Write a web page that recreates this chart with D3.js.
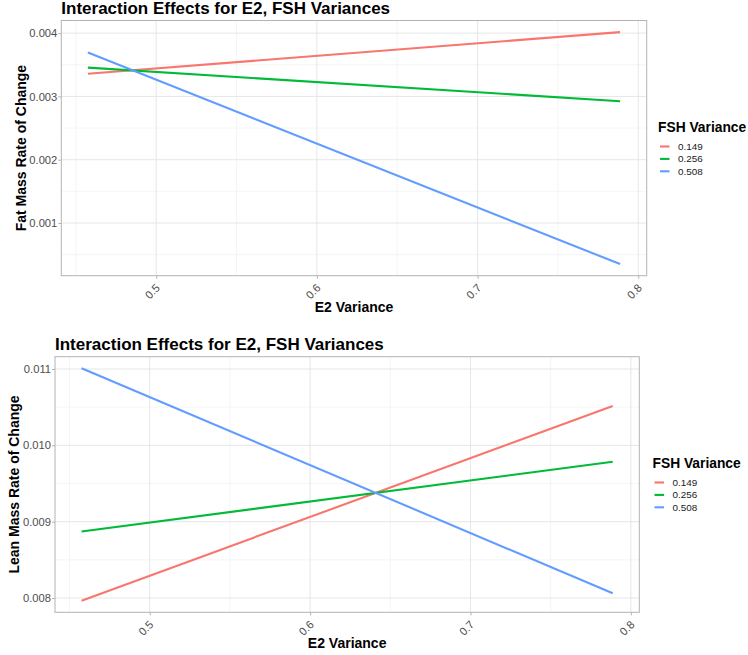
<!DOCTYPE html>
<html><head><meta charset="utf-8">
<script src="https://cdn.jsdelivr.net/npm/d3@7"></script>
<style>body{margin:0;background:#fff;} svg{display:block;font-family:"Liberation Sans",Arial,sans-serif;}</style>
</head><body>
<svg id="chart" width="748" height="655"></svg>
<script>
// ---- data ----
const e2Range = [0.4575, 0.7887];
const fshLevels = ["0.149", "0.256", "0.508"];
const fatRed = [0.003357, 0.004016];
const fatGreen = [0.003455, 0.002924];
const fatBlue = [0.003694, 0.000351];
const leanRed = [0.007965, 0.010515];
const leanGreen = [0.008872, 0.009784];
const leanBlue = [0.011009, 0.008062];
const xTicks = [0.5, 0.6, 0.7, 0.8];
const xMinor = [0.45, 0.55, 0.65, 0.75];
const fatTicks = [0.001, 0.002, 0.003, 0.004];
const fatMinor = [0.0005, 0.0015, 0.0025, 0.0035];
const leanTicks = [0.008, 0.009, 0.010, 0.011];
const leanMinor = [0.0085, 0.0095, 0.0105];
const colors = ["#F8766D", "#00BA38", "#619CFF"];

const svg = d3.select("#chart");

function expand(ext) { const r = ext[1] - ext[0]; return [ext[0] - 0.05 * r, ext[1] + 0.05 * r]; }

function panel(o) {
  const g = svg.append("g");
  const x = d3.scaleLinear().domain(expand(e2Range)).range([o.left, o.right]);
  const all = o.series.flat();
  const y = d3.scaleLinear().domain(expand(d3.extent(all))).range([o.bottom, o.top]);
  g.selectAll(".xm").data(xMinor).join("line").attr("x1", d => x(d)).attr("x2", d => x(d))
    .attr("y1", o.top).attr("y2", o.bottom).attr("stroke", "#EBEBEB").attr("stroke-width", 0.5);
  g.selectAll(".ym").data(o.yMinor).join("line").attr("y1", d => y(d)).attr("y2", d => y(d))
    .attr("x1", o.left).attr("x2", o.right).attr("stroke", "#EBEBEB").attr("stroke-width", 0.5);
  g.selectAll(".xg").data(xTicks).join("line").attr("x1", d => x(d)).attr("x2", d => x(d))
    .attr("y1", o.top).attr("y2", o.bottom).attr("stroke", "#E3E3E3").attr("stroke-width", 0.9);
  g.selectAll(".yg").data(o.yTicks).join("line").attr("y1", d => y(d)).attr("y2", d => y(d))
    .attr("x1", o.left).attr("x2", o.right).attr("stroke", "#E3E3E3").attr("stroke-width", 0.9);
  const line = d3.line().x((d, i) => x(e2Range[i])).y(d => y(d));
  o.series.forEach((s, i) => {
    g.append("path").attr("d", line(s)).attr("fill", "none").attr("stroke", colors[i]).attr("stroke-width", 2.1);
  });
  g.append("rect").attr("x", o.left).attr("y", o.top).attr("width", o.right - o.left).attr("height", o.bottom - o.top)
    .attr("fill", "none").attr("stroke", "#B3B3B3").attr("stroke-width", 1);
  const ya = d3.axisLeft(y).tickValues(o.yTicks).tickSize(3).tickPadding(1).tickFormat(d3.format(".3f"));
  const yg = g.append("g").attr("transform", `translate(${o.left},0)`).call(ya)
    .attr("font-size", null).attr("font-family", null);
  yg.select(".domain").remove();
  yg.selectAll(".tick line").attr("stroke", "#B3B3B3");
  yg.selectAll(".tick text").attr("fill", "#4D4D4D").attr("font-size", "11.2px");
  const xa = d3.axisBottom(x).tickValues(xTicks).tickSize(3).tickFormat(d3.format(".1f"));
  const xg = g.append("g").attr("transform", `translate(0,${o.bottom})`).call(xa)
    .attr("font-size", null).attr("font-family", null);
  xg.select(".domain").remove();
  xg.selectAll(".tick line").attr("stroke", "#B3B3B3");
  xg.selectAll(".tick text").attr("fill", "#4D4D4D").attr("font-size", "11.2px")
    .attr("text-anchor", "end").attr("y", 0).attr("dy", 0)
    .attr("transform", "translate(4,13) rotate(-45)");
  g.append("text").attr("x", o.left).attr("y", o.titleY).text("Interaction Effects for E2, FSH Variances")
    .attr("font-size", "17px").attr("font-weight", "bold").attr("fill", "#000");
  g.append("text").attr("x", (o.left + o.right) / 2).attr("y", o.xTitleY).attr("text-anchor", "middle")
    .text("E2 Variance").attr("font-size", "14px").attr("font-weight", "bold");
  g.append("text").attr("transform", `translate(${o.yTitleX},${(o.top + o.bottom) / 2}) rotate(-90)`)
    .attr("text-anchor", "middle").text(o.yLabel).attr("font-size", "14px").attr("font-weight", "bold");
  g.append("text").attr("x", o.legX).attr("y", o.legTitleY).text("FSH Variance")
    .attr("font-size", "13.8px").attr("font-weight", "bold");
  fshLevels.forEach((lv, i) => {
    const ky = o.legKeyY + i * 12.4;
    g.append("line").attr("x1", o.legX + 2).attr("x2", o.legX + 11.5).attr("y1", ky).attr("y2", ky)
      .attr("stroke", colors[i]).attr("stroke-width", 2.1);
    g.append("text").attr("x", o.legX + 20).attr("y", ky).attr("dy", "0.35em").text(lv)
      .attr("font-size", "9.9px").attr("fill", "#1a1a1a");
  });
}

panel({ left: 61.3, right: 646.7, top: 20.5, bottom: 275.7, series: [fatRed, fatGreen, fatBlue],
  yTicks: fatTicks, yMinor: fatMinor, titleY: 14, xTitleY: 311.5, yTitleX: 25.5, yLabel: "Fat Mass Rate of Change",
  legX: 658, legTitleY: 131.5, legKeyY: 146.5 });
panel({ left: 55, right: 639.3, top: 356.7, bottom: 612.3, series: [leanRed, leanGreen, leanBlue],
  yTicks: leanTicks, yMinor: leanMinor, titleY: 349.5, xTitleY: 648, yTitleX: 18.5, yLabel: "Lean Mass Rate of Change",
  legX: 652.5, legTitleY: 468.3, legKeyY: 482.5 });
</script>
</body></html>
